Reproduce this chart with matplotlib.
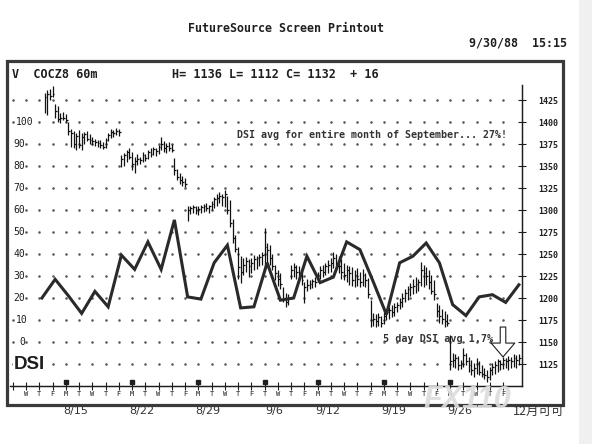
import numpy as np
import matplotlib
matplotlib.use('Agg')
from matplotlib import pyplot as plt
from matplotlib.patches import Rectangle

# 60 minute cocoa bars, five per session
highs = [
    1433, 1436, 1437, 1441, 1420,
    1418, 1410, 1411, 1409, 1400,
    1392, 1390, 1388, 1391, 1387,
    1389, 1390, 1386, 1383, 1381,
    1380, 1379, 1377, 1382, 1388,
    1392, 1391, 1393, 1392, 1362,
    1365, 1368, 1370, 1366, 1360,
    1364, 1360, 1366, 1364, 1368,
    1370, 1372, 1370, 1374, 1383,
    1378, 1376, 1377, 1375, 1359,
    1347, 1342, 1339, 1336, 1304,
    1305, 1306, 1304, 1305, 1306,
    1307, 1308, 1306, 1310, 1315,
    1318, 1320, 1318, 1323, 1316,
    1311, 1290, 1272, 1258, 1248,
    1245, 1247, 1244, 1246, 1249,
    1248, 1250, 1252, 1280, 1262,
    1260, 1250, 1238, 1232, 1228,
    1212, 1206, 1204, 1238, 1240,
    1237, 1236, 1230, 1218, 1222,
    1220, 1222, 1224, 1230, 1236,
    1238, 1240, 1243, 1246, 1252,
    1250, 1248, 1244, 1240, 1238,
    1236, 1235, 1232, 1234, 1230,
    1233, 1228, 1223, 1198, 1183,
    1182, 1183, 1180, 1184, 1188,
    1190, 1192, 1194, 1196, 1200,
    1206, 1210, 1214, 1217, 1222,
    1224, 1222, 1241, 1238, 1235,
    1232, 1226, 1220, 1194, 1192,
    1188, 1185, 1182, 1158, 1137,
    1136, 1134, 1130, 1143, 1138,
    1133, 1130, 1126, 1132, 1128,
    1124, 1120, 1118, 1122, 1126,
    1128, 1131, 1130, 1133, 1132,
    1134, 1133, 1136, 1135, 1136,
]
lows = [
    1410, 1408, 1425, 1428, 1405,
    1400, 1399, 1402, 1400, 1385,
    1372, 1370, 1368, 1370, 1368,
    1375, 1378, 1375, 1374, 1373,
    1372, 1371, 1369, 1370, 1378,
    1382, 1383, 1385, 1384, 1349,
    1350, 1355, 1358, 1345, 1342,
    1351, 1352, 1355, 1356, 1358,
    1360, 1362, 1361, 1364, 1368,
    1366, 1365, 1367, 1366, 1340,
    1334, 1330, 1327, 1326, 1287,
    1295, 1297, 1296, 1294, 1297,
    1298, 1299, 1297, 1300, 1302,
    1305, 1308, 1304, 1303, 1296,
    1281, 1262, 1252, 1222, 1217,
    1226, 1230, 1224, 1228, 1232,
    1233, 1236, 1238, 1235, 1240,
    1238, 1232, 1220, 1214, 1210,
    1195, 1190, 1192, 1222, 1224,
    1222, 1220, 1215, 1194, 1208,
    1210, 1211, 1212, 1218, 1222,
    1224, 1226, 1228, 1230, 1234,
    1232, 1228, 1222, 1220, 1218,
    1215, 1214, 1212, 1214, 1212,
    1214, 1212, 1200, 1167, 1168,
    1167, 1168, 1167, 1170, 1175,
    1176, 1178, 1180, 1184, 1188,
    1190, 1195, 1198, 1202, 1204,
    1206, 1208, 1214, 1212, 1215,
    1210, 1204, 1198, 1178, 1172,
    1170, 1167, 1168, 1118, 1122,
    1120, 1118, 1119, 1122, 1124,
    1116, 1112, 1110, 1114, 1112,
    1110, 1108, 1105, 1107, 1112,
    1114, 1116, 1118, 1119, 1120,
    1118, 1121, 1122, 1120, 1124,
]
closes = [
    1428, 1432, 1430, 1432, 1412,
    1403, 1405, 1404, 1402, 1390,
    1388, 1375, 1384, 1374, 1383,
    1386, 1381, 1380, 1378, 1377,
    1376, 1374, 1372, 1380, 1385,
    1389, 1388, 1390, 1389, 1358,
    1362, 1366, 1360, 1352, 1356,
    1358, 1357, 1363, 1359, 1366,
    1364, 1369, 1367, 1372, 1375,
    1370, 1373, 1371, 1368, 1345,
    1338, 1334, 1332, 1330, 1300,
    1302, 1303, 1300, 1301, 1303,
    1304, 1302, 1305, 1307, 1312,
    1314, 1316, 1315, 1318, 1300,
    1285, 1268, 1256, 1235, 1230,
    1238, 1242, 1236, 1240, 1244,
    1245, 1247, 1249, 1258, 1255,
    1246, 1236, 1228, 1222, 1216,
    1200, 1196, 1200, 1232, 1235,
    1230, 1226, 1220, 1212, 1215,
    1216, 1219, 1218, 1226, 1232,
    1230, 1236, 1238, 1240, 1245,
    1240, 1236, 1230, 1226, 1232,
    1228, 1220, 1226, 1222, 1218,
    1226, 1220, 1205, 1175, 1176,
    1174, 1178, 1172, 1180, 1184,
    1186, 1184, 1190, 1192, 1196,
    1200, 1206, 1210, 1212, 1214,
    1216, 1218, 1232, 1228, 1225,
    1218, 1208, 1204, 1185, 1180,
    1176, 1174, 1172, 1128, 1130,
    1132, 1124, 1126, 1135, 1128,
    1124, 1118, 1120, 1126, 1116,
    1114, 1112, 1110, 1118, 1122,
    1124, 1128, 1125, 1130, 1128,
    1130, 1128, 1132, 1130, 1132,
]

# daily sentiment index
dsi = [20, 28.5, 21, 13, 23, 16, 39.5, 33, 45.5, 33, 55.5, 20.5, 19.5,
       36, 44, 15.5, 16, 36, 19, 20, 39, 27, 29.5, 45.5, 42, 27.5, 12.5,
       36, 39, 45, 36, 17, 12, 20.5, 21.5, 18, 26]

day_letters = list('WTF' + 'MTWTF' * 3 + 'TWTF' + 'MTWTF' * 3)
week_starts = [3, 8, 13, 18, 22, 27, 32]
date_labels = ['8/15', '8/22', '8/29', '9/6', '9/12', '9/19', '9/26']
price_ticks = list(range(1125, 1426, 25))
dsi_ticks = list(range(0, 101, 10))

W, H = 592, 444
INK = '#1e1e1e'
MONO = 'DejaVu Sans Mono'
plt.rcParams['font.family'] = MONO


def fx(x):
    return x / W


def fy(y):
    return 1 - y / H


fig = plt.figure(figsize=(W / 100, H / 100), dpi=100)

# outer printout frame and the grey scan edge
fig.add_artist(Rectangle((fx(579), 0), fx(13), 1, transform=fig.transFigure,
                         color='#f0f0f0', lw=0, zorder=0))
fig.add_artist(Rectangle((fx(7), fy(405)), fx(556), (405 - 61) / H,
                         transform=fig.transFigure, fill=False, lw=2.3,
                         ec='#3a3a3a', zorder=3))

ax = fig.add_axes([fx(10), fy(386), fx(512), 301 / H])
ax2 = ax.twinx()
ax.set_xlim((10 - 26) / 13.25, (522 - 26) / 13.25)
ax.set_ylim(1100, 1442.05)
ax.patch.set_alpha(0)
ax2.patch.set_alpha(0)

# dotted grid, one dot per session on every price line
gx, gy = np.meshgrid(np.arange(-1, 37), price_ticks)
ax.plot(gx.ravel(), gy.ravel(), ls='none', marker='o', ms=0.85,
        color='#5a5a5a', zorder=1)

bx = 1.4 + 0.2 * np.arange(len(highs))
ax.vlines(bx, lows, highs, color='#111111', lw=0.9, zorder=3)
ax.hlines(closes, bx, bx + 0.14, color='#111111', lw=0.9, zorder=3)

for a in (ax, ax2):
    for s in ['top', 'left']:
        a.spines[s].set_visible(False)
    for s in ['right', 'bottom']:
        a.spines[s].set_color(INK)
        a.spines[s].set_linewidth(0.9)

ax.set_yticks(price_ticks)
ax.yaxis.set_ticks_position('right')
ax.tick_params(axis='y', left=False, labelleft=False, right=True,
               labelright=True, direction='inout', length=6, width=0.8,
               pad=9, labelsize=6, colors=INK)
for t in ax.get_yticklabels():
    t.set_fontweight('bold')

ax.set_xticks(np.arange(-1, 37))
ax.set_xticklabels([''] + day_letters)
ax.tick_params(axis='x', direction='inout', length=6, width=0.8, pad=0.5,
               labelsize=5, colors=INK)
ax.plot(week_starts, [0.012] * len(week_starts), 's', ms=2.2, color=INK,
        transform=ax.get_xaxis_transform(), clip_on=False)

for d, lab in zip(week_starts, date_labels):
    ax.text(d + 0.75, -0.083, lab, transform=ax.get_xaxis_transform(),
            ha='center', va='center', fontsize=8, family='DejaVu Sans',
            color='#333333')

# DSI on its own left hand scale
ax2.set_ylim((1100 - 1150) / 2.5, (1442.05 - 1150) / 2.5)
ax2.set_yticks([])
ax2.tick_params(axis='y', left=False, right=False)
ax2.plot(1.2 + np.arange(len(dsi)), dsi, color='#2a2a2a', lw=2.2,
         solid_joinstyle='miter', zorder=4)
for v in dsi_ticks:
    lx = {100: -0.755, 10: -0.755, 0: -0.53}.get(v, -0.98)
    ax2.text(lx, v, str(v), ha='left', va='center', fontsize=7, color=INK,
             bbox=dict(fc='white', ec='none', pad=0.4), zorder=5)
ax.text(-0.9, 1125, 'DSI', ha='left', va='center', fontsize=13.5,
        weight='bold', family='Liberation Sans', color=INK,
        bbox=dict(fc='white', ec='none', pad=0.5), zorder=5)

# hollow pointer over the last sessions
ax.annotate('', xy=(36.0, 1133), xytext=(36.0, 1167),
            arrowprops=dict(arrowstyle='simple,head_width=0.85,head_length=0.5,tail_width=0.2',
                            mutation_scale=20, fc='white', ec=INK, lw=0.8,
                            shrinkA=0, shrinkB=0),
            zorder=6)

# screen texts
fig.text(fx(285.5), fy(29), 'FutureSource Screen Printout', ha='center',
         va='center', fontsize=8.4, weight='bold', color=INK)
fig.text(fx(469), fy(43), '9/30/88  15:15', ha='left', va='center',
         fontsize=8.4, weight='bold', color=INK)
fig.text(fx(12), fy(75), 'V  COCZ8 60m', ha='left', va='center',
         fontsize=8.5, weight='bold', color=INK)
fig.text(fx(172), fy(75), 'H= 1136 L= 1112 C= 1132  + 16', ha='left',
         va='center', fontsize=8.5, weight='bold', color=INK)
fig.text(fx(237), fy(135), 'DSI avg for entire month of September... 27%!',
         ha='left', va='center', fontsize=7.2, weight='bold', color='#333333')
fig.text(fx(383), fy(339), '5 day DSI avg 1.7%', ha='left', va='center',
         fontsize=7.3, weight='bold', color='#333333', zorder=5)

fig.text(fx(539), fy(411), '12月可可', ha='center', va='center', fontsize=9,
         family=['Noto Sans CJK SC', 'DejaVu Sans'], color='#333333')
fig.text(fx(423), fy(400), 'FX110', ha='left', va='center', fontsize=22,
         weight='bold', style='italic', family='Liberation Sans',
         color='#dddddd', alpha=0.92, zorder=10)

fig.savefig('out.png', dpi=100)
